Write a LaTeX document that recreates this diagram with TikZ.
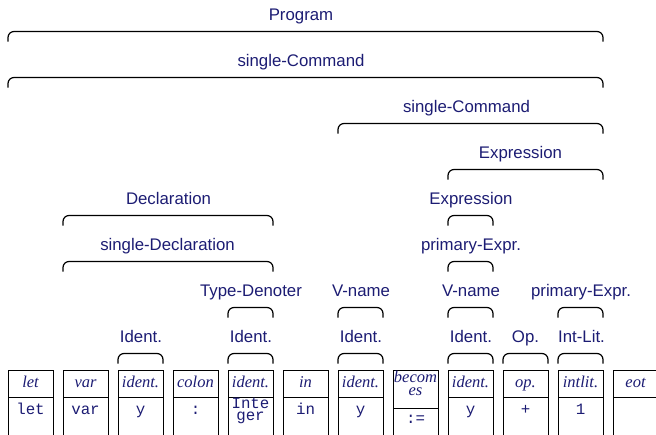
\documentclass[tikz,border=0pt]{standalone}
\usepackage{fontspec}
\setmainfont{Liberation Serif}
\setsansfont{Liberation Sans}
\setmonofont{Liberation Mono}
\usetikzlibrary{calc}
\definecolor{navy}{RGB}{28,28,115}
\tikzset{
  lbl/.style={font=\sffamily\fontsize{16.8}{18}\selectfont, text=navy, inner sep=0, anchor=base},
  kind/.style={font=\rmfamily\itshape\fontsize{16.5}{13.5}\selectfont, text=navy, inner sep=0, anchor=base, align=center},
  spell/.style={font=\ttfamily\fontsize{15.8}{12}\selectfont, text=navy, inner sep=0, anchor=base, align=center},
  cell/.style={draw, line width=0.9pt, minimum width=45pt, inner sep=0, outer sep=0, anchor=north west},
  brkline/.style={line width=1.2pt, rounded corners=6pt},
}
\newcommand\brk[3]{\draw[brkline] let \p1=(#1.north west), \p2=(#2.north east), \p3=(#3.base) in
  (\x1,\y3-21pt) -- (\x1,\y3-11pt) -- (\x2,\y3-11pt) -- (\x2,\y3-21pt);}
\begin{document}
\begin{tikzpicture}[x=1pt,y=1pt]
\useasboundingbox (0,0) rectangle (656,-434);
% token boxes
\foreach \i/\kd/\sp in {1/let/let, 2/var/var, 3/ident./y, 4/colon/:, 6/in/in, 7/ident./y, 9/ident./y, 10/op./+, 11/intlit./1, 12/eot/{}} {
  \pgfmathsetmacro\xx{8+55*(\i-1)}
  \node[cell, minimum height=27pt] (K\i) at (\xx,-370) {};
  \node[cell, minimum height=45pt] (S\i) at (\xx,-397) {};
  \node[kind] (k\i) at ($(K\i.north)+(0,-17)$) {\kd};
  \node[spell] (s\i) at ($(S\i.north)+(0,-17.5)$) {\sp};
}
% Integer
\node[cell, minimum height=27pt] (K5) at (228,-370) {};
\node[cell, minimum height=45pt] (S5) at (228,-397) {};
\node[kind] (k5) at ($(K5.north)+(0,-17)$) {ident.};
\node[spell, anchor=north] (s5) at ($(S5.north)+(0,-1)$) {Inte\\ger};
% becomes
\node[cell, minimum height=38pt] (K8) at (393,-370) {};
\node[cell, minimum height=34pt] (S8) at (393,-408) {};
\node[kind, anchor=north] (k8) at ($(K8.north)+(0,-0.5)$) {becom\\es};
\node[spell] (s8) at ($(S8.north)+(0,-15)$) {:=};
% labels
\node[lbl] (Lprog) at (301,-20.5) {Program};
\node[lbl] (Lsc1) at (301,-66.5) {single-Command};
\node[lbl] (Lsc2) at (466.5,-112.5) {single-Command};
\node[lbl] (Lex1) at (520.5,-158.5) {Expression};
\node[lbl] (Lex2) at (471,-204.5) {Expression};
\node[lbl] (Ldecl) at (168.5,-204.5) {Declaration};
\node[lbl] (Lsdecl) at (167.5,-250.5) {single-Declaration};
\node[lbl] (Lpe1) at (471,-250.5) {primary-Expr.};
\node[lbl] (Ltd) at (251,-296.5) {Type-Denoter};
\node[lbl] (Lvn1) at (361,-296.5) {V-name};
\node[lbl] (Lvn2) at (471,-296.5) {V-name};
\node[lbl] (Lpe2) at (581,-296.5) {primary-Expr.};
\node[lbl] (Lid1) at (141,-342.5) {Ident.};
\node[lbl] (Lid2) at (251,-342.5) {Ident.};
\node[lbl] (Lid3) at (361,-342.5) {Ident.};
\node[lbl] (Lid4) at (471,-342.5) {Ident.};
\node[lbl] (Lop) at (525.5,-342.5) {Op.};
\node[lbl] (Lil) at (581.5,-342.5) {Int-Lit.};
% brackets
\brk{K1}{K11}{Lprog}
\brk{K1}{K11}{Lsc1}
\brk{K7}{K11}{Lsc2}
\brk{K9}{K11}{Lex1}
\brk{K9}{K9}{Lex2}
\brk{K2}{K5}{Ldecl}
\brk{K2}{K5}{Lsdecl}
\brk{K9}{K9}{Lpe1}
\brk{K5}{K5}{Ltd}
\brk{K7}{K7}{Lvn1}
\brk{K9}{K9}{Lvn2}
\brk{K11}{K11}{Lpe2}
\brk{K3}{K3}{Lid1}
\brk{K5}{K5}{Lid2}
\brk{K7}{K7}{Lid3}
\brk{K9}{K9}{Lid4}
\brk{K10}{K10}{Lop}
\brk{K11}{K11}{Lil}
\end{tikzpicture}
\end{document}
